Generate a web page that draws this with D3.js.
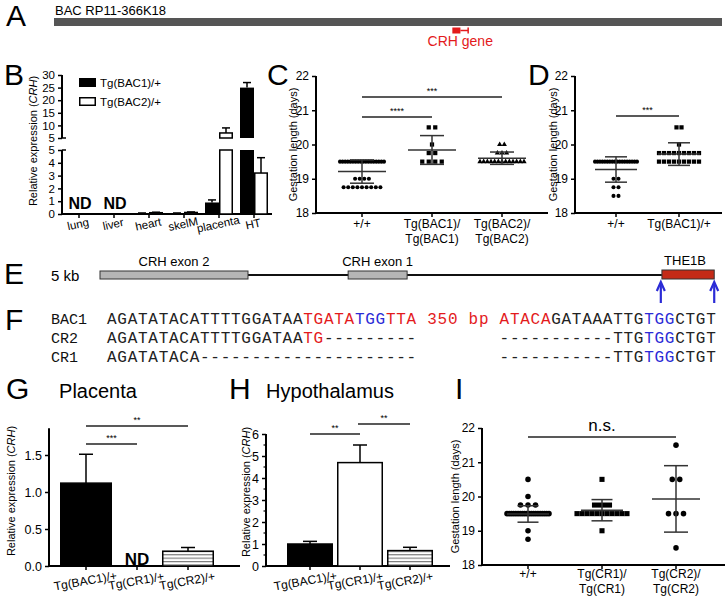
<!DOCTYPE html>
<html><head><meta charset="utf-8">
<script src="https://cdn.jsdelivr.net/npm/d3@7"></script>
<style>
body{margin:0;background:#fff;}
svg text{font-family:"Liberation Sans",Arial,sans-serif;fill:#000;}
</style></head><body>
<svg id="fig" width="727" height="597"></svg>
<script>
// ================= DATA =================
// Panel A
const bacLengthKb = 190;
const crhGeneKb = [113.3, 115.6, 117.8];      // exon block start, block end, gene end

// Panel B
const bTissues = ["lung","liver","heart","skelM","placenta","HT"];
const bBac1 = [null, null, 0.05, 0.05, 0.9, 25];
const bBac1Err = [0, 0, 0.03, 0.03, 0.2, 2];
const bBac2 = [null, null, 0.1, 0.12, 7, 3.2];
const bBac2Err = [0, 0, 0.04, 0.04, 2, 1.2];
const bLowerTicks = [0,1,2,3,4,5];
const bUpperTicks = [5,10,15,20,25,30];
const bLegend = ["Tg(BAC1)/+","Tg(BAC2)/+"];

// Panel C
const cGroups = [["+/+"],["Tg(BAC1)/","Tg(BAC1)"],["Tg(BAC2)/","Tg(BAC2)"]];
const cWTValues = [19.5, 19.0, 18.75],        cWTCounts = [18, 4, 9];
const cBAC1Values = [20.5, 20.0, 19.75, 19.5], cBAC1Counts = [2, 1, 2, 4];
const cBAC2Values = [20.0, 19.75, 19.5],       cBAC2Counts = [2, 3, 13];
const cMeans = [19.21, 19.84, 19.6];
const cSDs = [0.34, 0.42, 0.18];
const gestTicks = [18,19,20,21,22];

// Panel D
const dGroups = [["+/+"],["Tg(BAC1)/+"]];
const dWTValues = [19.5, 19.0, 18.75, 18.5],   dWTCounts = [18, 2, 2, 2];
const dBAC1Values = [20.5, 20.0, 19.75, 19.5], dBAC1Counts = [2, 1, 9, 9];
const dMeans = [19.27, 19.72];
const dSDs = [0.37, 0.33];

// Panel E (kb along the locus)
const eLocusKb = [0, 5.5];
const eExon2Kb = [0, 1.33];
const eExon1Kb = [2.23, 2.76];
const eTHE1BKb = [5.05, 5.52];
const eArrowsKb = [5.04, 5.52];

// Panel F
const fLabels = ["BAC1","CR2","CR1"];
const fBAC1 = [["AGATATACATTTTGGATAA","k"],["TGATA","r"],["TGG","b"],["TTA","r"],[" 350 bp ","r"],["ATACA","r"],["GATAAATTG","k"],["TGG","b"],["CTGT","k"]];
const fCR2  = [["AGATATACATTTTGGATAA","k"],["TG","r"],["---------","k"],["        ","k"],["-----------","k"],["TTG","k"],["TGG","b"],["CTGT","k"]];
const fCR1  = [["AGATATACA","k"],["---------------------","k"],["        ","k"],["-----------","k"],["TTG","k"],["TGG","b"],["CTGT","k"]];

// Panel G
const gGroups = ["Tg(BAC1)/+","Tg(CR1)/+","Tg(CR2)/+"];
const gValues = [1.12, null, 0.2];
const gErrors = [0.39, 0, 0.05];
const gTicks = [0, 0.5, 1.0, 1.5];

// Panel H
const hGroups = ["Tg(BAC1)/+","Tg(CR1)/+","Tg(CR2)/+"];
const hValues = [1.0, 4.7, 0.7];
const hErrors = [0.12, 0.8, 0.15];
const hTicks = [0,1,2,3,4,5,6];

// Panel I
const iGroups = [["+/+"],["Tg(CR1)/","Tg(CR1)"],["Tg(CR2)/","Tg(CR2)"]];
const iWTValues = [20.5, 20.0, 19.75, 19.5, 19.0, 18.75], iWTCounts = [1, 1, 3, 20, 1, 1];
const iCR1Values = [20.5, 19.75, 19.5, 19.0],            iCR1Counts = [1, 4, 11, 1];
const iCR2Values = [21.5, 20.5, 19.5, 18.5],             iCR2Counts = [1, 2, 3, 1];
const iMeans = [19.49, 19.6, 19.93];
const iSDs = [0.24, 0.31, 0.97];

// ================= DRAW =================
const svg = d3.select("#fig");
const RED = "#e31a1c", BLUE = "#2b2bd6";

const defs = svg.append("defs");
const pat = defs.append("pattern").attr("id","stripes").attr("patternUnits","userSpaceOnUse")
  .attr("width",6).attr("height",3.4);
pat.append("rect").attr("width",6).attr("height",3.4).attr("fill","#fff");
pat.append("line").attr("x1",0).attr("x2",6).attr("y1",0.6).attr("y2",0.6).attr("stroke","#666").attr("stroke-width",1);

function letter(t,x,y){ svg.append("text").attr("x",x).attr("y",y).attr("font-size",30).text(t); }
function line(g,x1,y1,x2,y2,w,c){ return g.append("line").attr("x1",x1).attr("y1",y1).attr("x2",x2).attr("y2",y2)
  .attr("stroke",c||"#000").attr("stroke-width",w||1.5); }
function styleAxis(sel,fs){
  sel.selectAll("path.domain").remove();
  sel.selectAll(".tick line").attr("stroke","#000").attr("stroke-width",1.5);
  sel.selectAll(".tick text").attr("font-size",fs).attr("font-family",'"Liberation Sans",Arial,sans-serif').attr("fill","#000");
}
function yLabel(x,y,fs,parts){
  const t = svg.append("text").attr("transform",`translate(${x},${y}) rotate(-90)`).attr("text-anchor","middle").attr("font-size",fs);
  parts.forEach(p=>t.append("tspan").attr("font-style",p[1]?"italic":"normal").text(p[0]));
}
function sig(g,x1,x2,y,label,fs,dy){
  line(g,x1,y,x2,y,1.6,"#222");
  g.append("text").attr("x",(x1+x2)/2).attr("y",y-(dy||4)).attr("text-anchor","middle").attr("font-size",fs).text(label);
}
function marker(g,type,x,y,area){
  const sym = type==="circle"?d3.symbolCircle:type==="square"?d3.symbolSquare:d3.symbolTriangle;
  g.append("path").attr("d",d3.symbol(sym).size(area)()).attr("transform",`translate(${x},${y})`).attr("fill","#000");
}
function scatter(g,cx,y,values,counts,type,area,spacing,maxW){
  values.forEach((v,k)=>{
    const n = counts[k];
    const sp = n>1 ? Math.min(spacing, maxW/(n-1)) : 0;
    for(let i=0;i<n;i++) marker(g,type,cx+(i-(n-1)/2)*sp,y(v),area);
  });
}
function meanSD(g,cx,y,m,s,mw,cw){
  const c="#333";
  line(g,cx-mw/2,y(m),cx+mw/2,y(m),1.5,c);
  line(g,cx,y(m-s),cx,y(m+s),1.5,c);
  line(g,cx-cw/2,y(m+s),cx+cw/2,y(m+s),1.5,c);
  line(g,cx-cw/2,y(m-s),cx+cw/2,y(m-s),1.5,c);
}
function twoLineLabels(g,x,groups,y0,fs){
  groups.forEach((lines,i)=>{
    lines.forEach((t,j)=>g.append("text").attr("x",x(i)).attr("y",y0+j*15).attr("text-anchor","middle").attr("font-size",fs).text(t));
  });
}

// ---------- Panel A ----------
{
  const g = svg.append("g");
  letter("A",6,26);
  g.append("text").attr("x",55).attr("y",15).attr("font-size",13).text("BAC RP11-366K18");
  const x = d3.scaleLinear().domain([0,bacLengthKb]).range([54,722]);
  g.append("rect").attr("x",x(0)).attr("y",18).attr("width",x(bacLengthKb)-x(0)).attr("height",8).attr("fill","#555");
  g.append("rect").attr("x",x(crhGeneKb[0])).attr("y",27.5).attr("width",x(crhGeneKb[1])-x(crhGeneKb[0])).attr("height",6).attr("fill",RED);
  line(g,x(crhGeneKb[1]),30.5,x(crhGeneKb[2]),30.5,1.5,RED);
  line(g,x(crhGeneKb[2]),27.5,x(crhGeneKb[2]),33.5,1.5,RED);
  g.append("text").attr("x",x((crhGeneKb[0]+crhGeneKb[2])/2)).attr("y",46).attr("text-anchor","middle").attr("font-size",14).style("fill",RED).text("CRH gene");
}

// ---------- Panel B ----------
{
  const g = svg.append("g");
  letter("B",4,85);
  const yLo = d3.scaleLinear().domain([0,5]).range([214,150]);
  const yHi = d3.scaleLinear().domain([5,30]).range([138,75]);
  const x = d3.scalePoint().domain(bTissues).range([79,254]);
  const bw = 14;
  line(g,62,yLo(0),62,yLo(5),2);
  line(g,62,yHi(5),62,yHi(30),2);
  const aLo = g.append("g").attr("transform","translate(62,0)").call(d3.axisLeft(yLo).tickValues(bLowerTicks).tickSize(4).tickSizeOuter(0).tickFormat(d3.format("d")));
  styleAxis(aLo,11.5);
  const aHi = g.append("g").attr("transform","translate(62,0)").call(d3.axisLeft(yHi).tickValues(bUpperTicks).tickSize(4).tickSizeOuter(0).tickFormat(d3.format("d")));
  styleAxis(aHi,11.5);
  line(g,62,yLo(5),66,yLo(5),1.5); line(g,62,yHi(5),66,yHi(5),1.5);
  line(g,61,yLo(0),272,yLo(0),2);
  bTissues.forEach(t=>line(g,x(t),yLo(0),x(t),yLo(0)+4,1.5));
  function bar(x0,v,e,fill){
    if(v===null) return;
    const sw = fill==="#000"?0:1.5, ins = sw/2;
    if(v<=5){
      g.append("rect").attr("x",x0+ins).attr("y",yLo(v)).attr("width",bw-sw).attr("height",Math.max(0.8,yLo(0)-yLo(v)))
        .attr("fill",fill).attr("stroke",sw?"#000":"none").attr("stroke-width",sw);
      const top=yLo(v+e);
      line(g,x0+bw/2,yLo(v),x0+bw/2,top,1.5); line(g,x0+bw/2-4,top,x0+bw/2+4,top,1.5);
    } else {
      g.append("rect").attr("x",x0+ins).attr("y",yLo(5)).attr("width",bw-sw).attr("height",yLo(0)-yLo(5))
        .attr("fill",fill).attr("stroke",sw?"#000":"none").attr("stroke-width",sw);
      g.append("rect").attr("x",x0+ins).attr("y",yHi(v)).attr("width",bw-sw).attr("height",yHi(5)-yHi(v))
        .attr("fill",fill).attr("stroke",sw?"#000":"none").attr("stroke-width",sw);
      const top=yHi(v+e);
      line(g,x0+bw/2,yHi(v),x0+bw/2,top,1.5); line(g,x0+bw/2-4,top,x0+bw/2+4,top,1.5);
    }
  }
  bTissues.forEach((t,i)=>{
    bar(x(t)-bw,bBac1[i],bBac1Err[i],"#000");
    bar(x(t),bBac2[i],bBac2Err[i],"#fff");
    if(bBac1[i]===null) g.append("text").attr("x",x(t)+1).attr("y",209).attr("text-anchor","middle").attr("font-size",16).attr("font-weight","bold").text("ND");
  });
  bTissues.forEach(t=>g.append("text").attr("x",x(t)).attr("y",228).attr("text-anchor","middle").attr("font-size",11.5)
    .attr("transform",`rotate(-12,${x(t)},228)`).text(t));
  yLabel(37,141,11,[["Relative expression ("],["CRH",1],[")"]]);
  g.append("rect").attr("x",79).attr("y",78).attr("width",17).attr("height",9).attr("fill","#000");
  g.append("rect").attr("x",79.75).attr("y",97.75).attr("width",15.5).attr("height",7.5).attr("fill","#fff").attr("stroke","#000").attr("stroke-width",1.5);
  g.append("text").attr("x",100).attr("y",87).attr("font-size",11.5).text(bLegend[0]);
  g.append("text").attr("x",100).attr("y",106).attr("font-size",11.5).text(bLegend[1]);
}

function gestAxes(g,ax,y,x1,labelX){
  line(g,ax,y.range()[1],ax,y.range()[0]+1,2);
  line(g,ax-1,y.range()[0],x1,y.range()[0],2);
  const a = g.append("g").attr("transform",`translate(${ax},0)`).call(d3.axisLeft(y).tickValues(gestTicks).tickSize(4).tickSizeOuter(0).tickFormat(d3.format("d")));
  styleAxis(a,12);
  yLabel(labelX,(y.range()[0]+y.range()[1])/2,11,[["Gestation length (days)"]]);
}

// ---------- Panel C ----------
{
  const g = svg.append("g");
  letter("C",267,85);
  const y = d3.scaleLinear().domain([18,22]).range([213,76]);
  const x = d3.scaleLinear().domain([0,2]).range([362,502]);
  gestAxes(g,316,y,548,297);
  cGroups.forEach((d,i)=>line(g,x(i),213,x(i),217,1.5));
  twoLineLabels(g,x,cGroups,228,12);
  scatter(g,x(0),y,cWTValues,cWTCounts,"circle",13,4.6,44);
  scatter(g,x(1),y,cBAC1Values,cBAC1Counts,"square",18,6.5,44);
  scatter(g,x(2),y,cBAC2Values,cBAC2Counts,"triangle",12,4.6,44);
  [0,1,2].forEach(i=>meanSD(g,x(i),y,cMeans[i],cSDs[i],48,24));
  sig(g,x(0),x(1),117,"****",9,3);
  sig(g,x(0),x(2),97,"***",9,3);
}

// ---------- Panel D ----------
{
  const g = svg.append("g");
  letter("D",528,85);
  const y = d3.scaleLinear().domain([18,22]).range([213,76]);
  const x = d3.scaleLinear().domain([0,1]).range([616,679]);
  gestAxes(g,575,y,722,557);
  dGroups.forEach((d,i)=>line(g,x(i),213,x(i),217,1.5));
  twoLineLabels(g,x,dGroups,228,12);
  scatter(g,x(0),y,dWTValues,dWTCounts,"circle",13,5,42);
  scatter(g,x(1),y,dBAC1Values,dBAC1Counts,"square",18,5,42);
  [0,1].forEach(i=>meanSD(g,x(i),y,dMeans[i],dSDs[i],42,22));
  sig(g,x(0),x(1),116,"***",9,3);
}

// ---------- Panel E ----------
{
  const g = svg.append("g");
  letter("E",4,284);
  g.append("text").attr("x",51).attr("y",281).attr("font-size",15).text("5 kb");
  const x = d3.scaleLinear().domain(eLocusKb).range([100,712]);
  line(g,x(eLocusKb[0]),275,x(eTHE1BKb[0]),275,1.8,"#111");
  g.append("rect").attr("x",x(eExon2Kb[0])).attr("y",271).attr("width",x(eExon2Kb[1])-x(eExon2Kb[0])).attr("height",8).attr("fill","#b5b5b5").attr("stroke","#333").attr("stroke-width",1);
  g.append("rect").attr("x",x(eExon1Kb[0])).attr("y",271).attr("width",x(eExon1Kb[1])-x(eExon1Kb[0])).attr("height",8).attr("fill","#b5b5b5").attr("stroke","#333").attr("stroke-width",1);
  g.append("rect").attr("x",x(eTHE1BKb[0])).attr("y",270).attr("width",x(eTHE1BKb[1])-x(eTHE1BKb[0])).attr("height",9).attr("fill","#c42a17").attr("stroke","#333").attr("stroke-width",1);
  g.append("text").attr("x",x((eExon2Kb[0]+eExon2Kb[1])/2)).attr("y",266).attr("text-anchor","middle").attr("font-size",13).text("CRH exon 2");
  g.append("text").attr("x",x((eExon1Kb[0]+eExon1Kb[1])/2)).attr("y",266).attr("text-anchor","middle").attr("font-size",13).text("CRH exon 1");
  g.append("text").attr("x",x((eTHE1BKb[0]+eTHE1BKb[1])/2)-3).attr("y",265).attr("text-anchor","middle").attr("font-size",13).text("THE1B");
  eArrowsKb.forEach(k=>{
    const ax = x(k);
    line(g,ax,303,ax,283,2.2,BLUE);
    g.append("path").attr("d",`M${ax-4},${291} L${ax},${282} L${ax+4},${291}`).attr("fill","none").attr("stroke",BLUE).attr("stroke-width",2.2).attr("stroke-linejoin","miter");
  });
}

// ---------- Panel F ----------
{
  const g = svg.append("g");
  letter("F",5,330);
  const rows = [fBAC1,fCR2,fCR1];
  const rowY = d3.scalePoint().domain(fLabels).range([324,362]);
  const cx = d3.scaleLinear().domain([0,59]).range([107,716.5]);
  const col = {k:"#222", r:RED, b:BLUE};
  rows.forEach((segs,r)=>{
    const yy = rowY(fLabels[r]);
    g.append("text").attr("x",51).attr("y",yy).attr("font-size",15).style("font-family",'"Liberation Mono","Courier New",monospace').style("fill","#111").text(fLabels[r]);
    let idx=0;
    segs.forEach(([s,c])=>{
      for(const ch of s){
        if(ch!==" ") g.append("text").attr("x",cx(idx)).attr("y",yy).attr("font-size",16)
          .style("font-family",'"Liberation Mono","Courier New",monospace').style("fill",col[c]).text(ch);
        idx++;
      }
    });
  });
}

// ---------- Panel G ----------
{
  const g = svg.append("g");
  letter("G",6,399);
  g.append("text").attr("x",98).attr("y",398).attr("text-anchor","middle").attr("font-size",20).text("Placenta");
  const y = d3.scaleLinear().domain([0,1.5]).range([566,455]);
  const x = d3.scalePoint().domain(gGroups).range([86,188]);
  const bw = 52;
  line(g,49,y(1.86),49,y(0)+1,2);
  line(g,48,y(0),240,y(0),2);
  const a = g.append("g").attr("transform","translate(49,0)").call(d3.axisLeft(y).tickValues(gTicks).tickSize(4).tickSizeOuter(0).tickFormat(d3.format(".1f")));
  styleAxis(a,12.5);
  gGroups.forEach(t=>line(g,x(t),y(0),x(t),y(0)+4,1.5));
  const fills = ["#000",null,"url(#stripes)"];
  gGroups.forEach((t,i)=>{
    if(gValues[i]===null){
      g.append("text").attr("x",x(t)).attr("y",565).attr("text-anchor","middle").attr("font-size",17).attr("font-weight","bold").text("ND");
      return;
    }
    g.append("rect").attr("x",x(t)-bw/2+0.75).attr("y",y(gValues[i])).attr("width",bw-1.5).attr("height",y(0)-y(gValues[i]))
      .attr("fill",fills[i]).attr("stroke","#000").attr("stroke-width",1.5);
    const top = y(gValues[i]+gErrors[i]);
    line(g,x(t),y(gValues[i]),x(t),top,1.5); line(g,x(t)-7,top,x(t)+7,top,1.5);
  });
  gGroups.forEach(t=>g.append("text").attr("x",x(t)).attr("y",585).attr("text-anchor","middle").attr("font-size",12)
    .attr("transform",`rotate(-10,${x(t)},585)`).text(t));
  yLabel(15,491,11,[["Relative expression ("],["CRH",1],[")"]]);
  sig(g,x(gGroups[0]),x(gGroups[1]),444,"***",9,3);
  sig(g,x(gGroups[0]),x(gGroups[2]),426,"**",9,3);
}

// ---------- Panel H ----------
{
  const g = svg.append("g");
  letter("H",229,399);
  g.append("text").attr("x",330).attr("y",398).attr("text-anchor","middle").attr("font-size",20).text("Hypothalamus");
  const y = d3.scaleLinear().domain([0,6]).range([566,434]);
  const x = d3.scalePoint().domain(hGroups).range([310,410]);
  const bw = 46;
  line(g,266,y(6),266,y(0)+1,2);
  line(g,265,y(0),450,y(0),2);
  const a = g.append("g").attr("transform","translate(266,0)").call(d3.axisLeft(y).tickValues(hTicks).tickSize(4).tickSizeOuter(0).tickFormat(d3.format("d")));
  styleAxis(a,12.5);
  d3.range(0.5,6,1).forEach(v=>line(g,266,y(v),263.5,y(v),1.2));
  hGroups.forEach(t=>line(g,x(t),y(0),x(t),y(0)+4,1.5));
  const fills = ["#000","#fff","url(#stripes)"];
  hGroups.forEach((t,i)=>{
    g.append("rect").attr("x",x(t)-bw/2+0.75).attr("y",y(hValues[i])).attr("width",bw-1.5).attr("height",y(0)-y(hValues[i]))
      .attr("fill",fills[i]).attr("stroke","#000").attr("stroke-width",1.5);
    const top = y(hValues[i]+hErrors[i]);
    line(g,x(t),y(hValues[i]),x(t),top,1.5); line(g,x(t)-7,top,x(t)+7,top,1.5);
  });
  hGroups.forEach((t,i)=>g.append("text").attr("x",x(t)-4).attr("y",585).attr("text-anchor","middle").attr("font-size",12)
    .attr("transform",`rotate(-10,${x(t)-4},585)`).text(t));
  yLabel(250,492,11,[["Relative expression ("],["CRH",1],[")"]]);
  sig(g,x(hGroups[0]),x(hGroups[1]),434,"**",9,3);
  sig(g,x(hGroups[1])-2,x(hGroups[2]),424,"**",9,3);
}

// ---------- Panel I ----------
{
  const g = svg.append("g");
  letter("I",455,399);
  const y = d3.scaleLinear().domain([18,22]).range([565,428]);
  const x = d3.scaleLinear().domain([0,2]).range([528,676]);
  gestAxes(g,482,y,725,459);
  iGroups.forEach((d,i)=>line(g,x(i),565,x(i),569,1.5));
  twoLineLabels(g,x,iGroups,578,12);
  scatter(g,x(0),y,iWTValues,iWTCounts,"circle",24,7.5,42);
  scatter(g,x(1),y,iCR1Values,iCR1Counts,"square",26,5,50);
  scatter(g,x(2),y,iCR2Values,iCR2Counts,"circle",24,7.5,42);
  [0,1,2].forEach(i=>meanSD(g,x(i),y,iMeans[i],iSDs[i],i===2?48:42,i===2?24:21));
  line(g,x(0),437,x(2),437,1.6,"#222");
  g.append("text").attr("x",(x(0)+x(2))/2).attr("y",431).attr("text-anchor","middle").attr("font-size",17).text("n.s.");
}
</script>
</body></html>
